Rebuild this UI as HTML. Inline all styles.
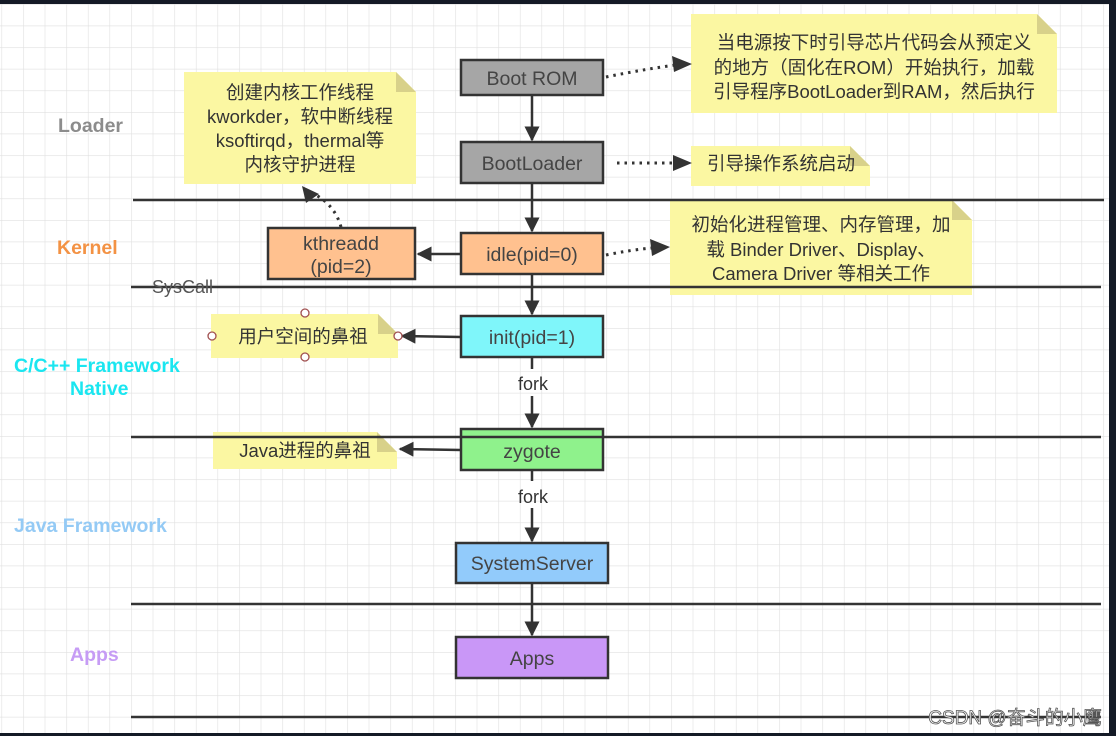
<!DOCTYPE html>
<html><head><meta charset="utf-8">
<style>
html,body{margin:0;padding:0;background:#fff;}
svg{display:block;}
text{font-family:"Liberation Sans","Noto Sans CJK SC",sans-serif;}
</style></head>
<body>
<svg width="1116" height="736" viewBox="0 0 1116 736" xmlns="http://www.w3.org/2000/svg">
<defs>
<pattern id="g" x="1.5" y="4" width="21.6" height="21.6" patternUnits="userSpaceOnUse">
<path d="M0 0H21.6M0 0V21.6" stroke="#e0e0e0" stroke-width="1.2" fill="none"/>
</pattern>
<marker id="a" viewBox="0 0 10 10" refX="9" refY="5" markerWidth="6" markerHeight="6" orient="auto">
<path d="M0 0L10 5L0 10z" fill="#333"/>
</marker>
</defs>
<rect width="1116" height="736" fill="#fff"/>
<rect x="0" y="4" width="1110" height="730" fill="url(#g)"/>
<rect x="0" y="0" width="1116" height="4" fill="#141a26"/>
<rect x="1109" y="0" width="7" height="736" fill="#141a26"/>
<rect x="0" y="733" width="1116" height="3" fill="#141a26"/>

<g font-weight="bold" font-size="19.5">
<text x="58" y="132" fill="#8c8c8c">Loader</text>
<text x="57" y="254" fill="#f39244">Kernel</text>
<text x="14" y="372" fill="#1ae6f0">C/C++ Framework</text>
<text x="70" y="395" fill="#1ae6f0">Native</text>
<text x="14" y="532" fill="#94caf5">Java Framework</text>
<text x="70" y="661" fill="#c69cf5">Apps</text>
</g>

<g fill="#fbf7a2">
<path d="M184 72H396L416 92V184H184Z"/>
<path d="M691 14H1037L1057 34V113H691Z"/>
<path d="M691 146H850L870 166V186H691Z"/>
<path d="M670 200H952L972 220V295H670Z"/>
<path d="M211 314H378L398 334V358H211Z"/>
<path d="M213 432H377L397 452V469H213Z"/>
</g>
<g fill="#d8d18a">
<path d="M396 72V92H416Z"/>
<path d="M1037 14V34H1057Z"/>
<path d="M850 146V166H870Z"/>
<path d="M952 200V220H972Z"/>
<path d="M378 314V334H398Z"/>
<path d="M377 432V452H397Z"/>
</g>
<g font-size="18.5" fill="#333" text-anchor="middle">
<text x="300" y="99">创建内核工作线程</text>
<text x="300" y="123">kworkder，软中断线程</text>
<text x="300" y="147">ksoftirqd，thermal等</text>
<text x="300" y="171">内核守护进程</text>
<text x="874" y="49">当电源按下时引导芯片代码会从预定义</text>
<text x="874" y="74">的地方（固化在ROM）开始执行，加载</text>
<text x="874" y="98">引导程序BootLoader到RAM，然后执行</text>
<text x="781" y="170">引导操作系统启动</text>
<text x="821" y="231">初始化进程管理、内存管理，加</text>
<text x="821" y="256">载 Binder Driver、Display、</text>
<text x="821" y="280">Camera Driver 等相关工作</text>
<text x="303" y="343">用户空间的鼻祖</text>
<text x="305" y="457">Java进程的鼻祖</text>
</g>

<g stroke="#333" stroke-width="2.5">
<line x1="133" y1="200" x2="1104" y2="200"/>
<line x1="131" y1="287" x2="1101" y2="287"/>
<line x1="131" y1="604" x2="1101" y2="604"/>
<line x1="131" y1="717" x2="1101" y2="717"/>
</g>
<text x="152" y="293" font-size="18" fill="#555">SysCall</text>

<g stroke="#333" stroke-width="2.5" marker-end="url(#a)" fill="none">
<line x1="532" y1="95" x2="532" y2="140"/>
<line x1="532" y1="183" x2="532" y2="231"/>
<line x1="532" y1="274" x2="532" y2="314"/>
<line x1="532" y1="396" x2="532" y2="427"/>
<line x1="532" y1="508" x2="532" y2="541"/>
<line x1="532" y1="583" x2="532" y2="635"/>
<line x1="461" y1="254" x2="418" y2="254"/>
<line x1="461" y1="337" x2="402" y2="336"/>
<line x1="461" y1="450" x2="400" y2="449"/>
</g>
<g stroke="#333" stroke-width="2.5">
<line x1="532" y1="357" x2="532" y2="369"/>
<line x1="532" y1="470" x2="532" y2="481"/>
</g>
<g font-size="18" fill="#333" text-anchor="middle">
<text x="533" y="390">fork</text>
<text x="533" y="503">fork</text>
</g>

<g stroke="#333" stroke-width="3" stroke-dasharray="2.5 5" fill="none">
<path d="M606 77Q640 70 675 65"/>
<line x1="617" y1="163" x2="675" y2="163"/>
<path d="M606 255Q630 250 652 248"/>
<path d="M341 227Q335 205 314 194"/>
</g>
<g fill="#333">
<path d="M692 64L672 56L674 72Z"/>
<path d="M692 163L673 155V171Z"/>
<path d="M670 247L650 239L652 256Z"/>
<path d="M302 186L306 203L319 194Z"/>
</g>

<g stroke="#333" stroke-width="2.5">
<rect x="461" y="60" width="142" height="35" fill="#a6a6a6"/>
<rect x="461" y="142" width="142" height="41" fill="#a6a6a6"/>
<rect x="461" y="233" width="142" height="41" fill="#ffc18f"/>
<rect x="268" y="228" width="147" height="51" fill="#ffc18f"/>
<rect x="461" y="316" width="142" height="41" fill="#7ff6fa"/>
<rect x="461" y="429" width="142" height="41" fill="#8ff28c"/>
<rect x="456" y="543" width="152" height="40" fill="#92cbfb"/>
<rect x="456" y="637" width="152" height="41" fill="#c997f7"/>
</g>
<line x1="131" y1="437" x2="1101" y2="437" stroke="#333" stroke-width="2.5"/>
<g font-size="19.5" fill="#444" text-anchor="middle">
<text x="532" y="85">Boot ROM</text>
<text x="532" y="170">BootLoader</text>
<text x="532" y="261">idle(pid=0)</text>
<text x="341" y="250">kthreadd</text>
<text x="341" y="273">(pid=2)</text>
<text x="532" y="344">init(pid=1)</text>
<text x="532" y="458">zygote</text>
<text x="532" y="570">SystemServer</text>
<text x="532" y="665">Apps</text>
</g>

<g fill="#fff" stroke="#a05050" stroke-width="1.3">
<circle cx="305" cy="313" r="4"/>
<circle cx="305" cy="357" r="4"/>
<circle cx="212" cy="336" r="4"/>
<circle cx="398" cy="336" r="4"/>
</g>

<text x="1015" y="724" font-size="19" fill="#fff" stroke="#555" stroke-width="0.8" text-anchor="middle">CSDN @奋斗的小鹰</text>
</svg>
</body></html>
